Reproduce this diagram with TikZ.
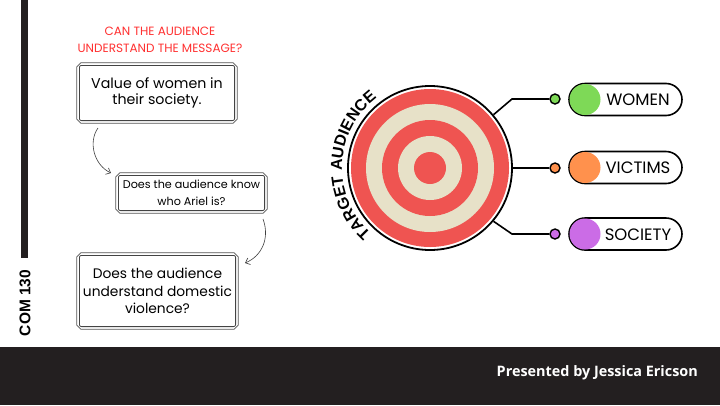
\documentclass[tikz,border=0pt]{standalone}
\usepackage{fontspec}
\setmainfont{Poppins}
\newfontfamily\bsans{Liberation Sans}
\newfontfamily\presfont{Open Sans}
\usetikzlibrary{arrows.meta,shapes.misc,decorations.text}
\definecolor{tred}{HTML}{EF5451}
\definecolor{tcream}{HTML}{E7E1C8}
\definecolor{titlered}{HTML}{FF3131}
\definecolor{band}{HTML}{231F20}
\definecolor{cgreen}{HTML}{7ED957}
\definecolor{corange}{HTML}{FF914D}
\definecolor{cpurple}{HTML}{CB6CE6}
\definecolor{boxline}{HTML}{555555}
\tikzset{
  qbox/.style={draw=none, inner sep=0pt, align=center, text=black},
  flowarrow/.style={draw=black!75, line width=0.6pt, -{Straight Barb[length=4pt,width=7pt]}},
  dot/.style={circle, draw=black, line width=1.4pt, minimum size=10pt, inner sep=0pt},
  pill/.style={rounded rectangle, draw=black, line width=1.6pt, minimum width=113pt, minimum height=32pt, inner sep=0pt},
  ball/.style={circle, minimum size=31pt, inner sep=0pt},
  pilltext/.style={font=\fontsize{16.5}{18}\selectfont, text=black},
  wire/.style={draw=black, line width=1.6pt}
}
\begin{document}
\begin{tikzpicture}[x=1pt,y=-1pt]
\useasboundingbox (0,0) rectangle (720,405);
\fill[white] (0,0) rectangle (720,405);
% bottom band
\fill[band] (0,347) rectangle (720,405);
\node[anchor=east, inner sep=0pt, text=white, font=\presfont\bfseries\fontsize{14.4}{16}\selectfont] (pres) at (698,373) {Presented by Jessica Ericson};
% left bar
\fill[band] (21,0) rectangle (28,258);
\node[rotate=90, font=\bsans\bfseries\fontsize{15.5}{17}\selectfont] (com) at (25,303) {COM 130};
% title
\node[align=center, text=titlered, font=\fontsize{12}{16.5}\selectfont] (title) at (160,40) {CAN THE AUDIENCE\\UNDERSTAND THE MESSAGE?};
% boxes
\node[qbox, minimum width=160pt, minimum height=60pt, font=\fontsize{14.2}{16.5}\selectfont] (b1) at (157,93) {Value of women in\\their society.};
\node[qbox, minimum width=151pt, minimum height=40pt, font=\fontsize{11.2}{17.5}\selectfont] (b2) at (191.5,193) {Does the audience know\\who Ariel is?};
\node[qbox, minimum width=161pt, minimum height=76pt, font=\fontsize{13.8}{17.5}\selectfont] (b3) at (157.5,291) {Does the audience\\understand domestic\\violence?};
\foreach \n in {b1,b2,b3}{
  \draw[boxline, line width=0.7pt]
    ([xshift=4pt]\n.north west) -- ([xshift=-4pt]\n.north east) -- ([yshift=-4pt]\n.north east)
    -- ([yshift=4pt]\n.south east) -- ([xshift=-4pt]\n.south east) -- ([xshift=4pt]\n.south west)
    -- ([yshift=4pt]\n.south west) -- ([yshift=-4pt]\n.north west) -- cycle;
  \draw[boxline!80!black, line width=0.8pt, rounded corners=2pt]
    ([shift={(2.6pt,-2.6pt)}]\n.north west) rectangle ([shift={(-2.6pt,2.6pt)}]\n.south east);
}
% flow arrows
\coordinate (a1s) at (98,128);
\coordinate (a1e) at (111,173);
\draw[flowarrow] (a1s) .. controls (88,142) and (94,165) .. (a1e);
\coordinate (a2s) at (263,219);
\coordinate (a2e) at (245,263);
\draw[flowarrow] (a2s) .. controls (270,238) and (262,256) .. (a2e);
% target
\begin{scope}[shift={(430,168)}, y=1pt]
  \fill[tred] (0,0) circle (79);
  \fill[tcream] (0,0) circle (64);
  \fill[tred] (0,0) circle (48);
  \fill[tcream] (0,0) circle (32);
  \fill[tred] (0,0) circle (16);
  \node[circle, draw=black, line width=1.8pt, minimum size=164pt, inner sep=0pt] (tgt) at (0,0) {};
  \path[decorate, decoration={text along path, text align=fit to path,
     text={|\bsans\bfseries\fontsize{16}{18}\selectfont|TARGET AUDIENCE}}]
     (228:88) arc (228:127:88);
\end{scope}
% dots and pills
\node[dot, fill=cgreen] (d1) at (555,99) {};
\node[dot, fill=corange] (d2) at (555,168) {};
\node[dot, fill=cpurple] (d3) at (555,234) {};
\coordinate (e1) at (512,99);
\coordinate (e3) at (512,234);
\draw[wire] (tgt.40) -- (e1) -- (d1);
\draw[wire] (tgt.east) -- (d2);
\draw[wire] (tgt.-40) -- (e3) -- (d3);
\node[pill] (p1) at (625.5,99.5) {};
\node[pill] (p2) at (625.5,167.5) {};
\node[pill] (p3) at (625.5,234) {};
\node[ball, fill=cgreen] (c1) at (585,99.5) {};
\node[ball, fill=corange] (c2) at (585,167.5) {};
\node[ball, fill=cpurple] (c3) at (585,234) {};
\node[pilltext] (t1) at (638,100) {WOMEN};
\node[pilltext] (t2) at (638,168) {VICTIMS};
\node[pilltext] (t3) at (638,234.5) {SOCIETY};
\end{tikzpicture}
\end{document}
